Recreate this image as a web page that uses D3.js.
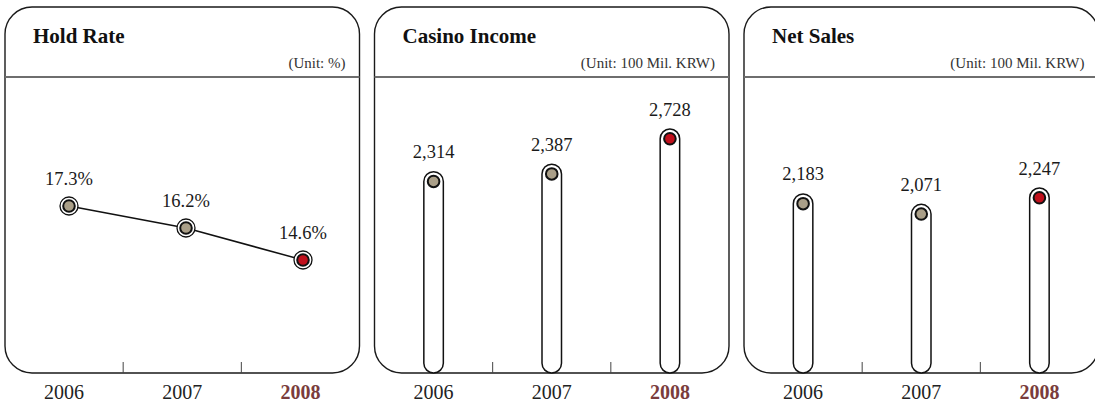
<!DOCTYPE html>
<html><head><meta charset="utf-8">
<script src="https://cdn.jsdelivr.net/npm/d3@7"></script>
<style>
html,body{margin:0;padding:0;background:#fff;}
svg{display:block;font-family:"Liberation Serif","DejaVu Serif",serif;}
</style></head>
<body><svg id="c" width="1095" height="405"></svg>
<script>
const years = ["2006", "2007", "2008"];
const holdRate = [17.3, 16.2, 14.6];
const casinoIncome = [2314, 2387, 2728];
const netSales = [2183, 2071, 2247];
const titles = ["Hold Rate", "Casino Income", "Net Sales"];
const units = ["(Unit: %)", "(Unit: 100 Mil. KRW)", "(Unit: 100 Mil. KRW)"];

(function () {
const svg = d3.select("#c");
const panelW = 354.5, gap = 15, panelTop = 7, panelBottom = 373, sepY = 77, cornerR = 27;
const lefts = [5, 5 + panelW + gap, 5 + 2 * (panelW + gap)];
const tan = "#aa9f88", red = "#c0101c";

function panel(i) {
  const x0 = lefts[i], x1 = x0 + panelW;
  const g = svg.append("g");
  g.append("rect").attr("x", x0).attr("y", panelTop).attr("width", panelW).attr("height", panelBottom - panelTop)
    .attr("rx", cornerR).attr("ry", cornerR).attr("fill", "#fff").attr("stroke", "#1a1a1a").attr("stroke-width", 1.4);
  g.append("line").attr("x1", x0).attr("x2", x1).attr("y1", sepY).attr("y2", sepY)
    .attr("stroke", "#6e6e6e").attr("stroke-width", 1.8);
  g.append("text").attr("x", x0 + 28).attr("y", 43).attr("font-size", 21).attr("font-weight", "bold")
    .attr("fill", "#111").text(titles[i]);
  g.append("text").attr("x", x1 - 14).attr("y", 68).attr("font-size", 15).attr("text-anchor", "end")
    .attr("fill", "#333").text(units[i]);
  const xb = d3.scaleBand().domain(years).range([x0, x1]);
  g.selectAll(".tk").data(years.slice(1)).join("line")
    .attr("x1", d => xb(d)).attr("x2", d => xb(d)).attr("y1", 362).attr("y2", panelBottom)
    .attr("stroke", "#444").attr("stroke-width", 1);
  g.selectAll(".yr").data(years).join("text")
    .attr("x", d => xb(d) + xb.bandwidth() / 2).attr("y", 399).attr("text-anchor", "middle")
    .attr("font-size", 20)
    .attr("font-weight", (d, j) => j === years.length - 1 ? "bold" : "normal")
    .attr("fill", (d, j) => j === years.length - 1 ? "#7a3c3c" : "#222")
    .text(d => d);
  return { g, x0, x1, xb };
}

// Panel 1: line
{
  const { g, x0 } = panel(0);
  const xp = d3.scalePoint().domain(years).range([x0 + 64, x0 + 298]);
  const y = d3.scaleLinear().domain([12, 20]).range([312, 152]);
  const pts = years.map((d, j) => ({ year: d, v: holdRate[j], last: j === years.length - 1 }));
  g.append("path").datum(pts)
    .attr("d", d3.line().x(d => xp(d.year)).y(d => y(d.v)))
    .attr("fill", "none").attr("stroke", "#111").attr("stroke-width", 1.5);
  g.selectAll(".o").data(pts).join("circle")
    .attr("cx", d => xp(d.year)).attr("cy", d => y(d.v)).attr("r", 9)
    .attr("fill", "#fff").attr("stroke", "#111").attr("stroke-width", 1.3);
  g.selectAll(".i").data(pts).join("circle")
    .attr("cx", d => xp(d.year)).attr("cy", d => y(d.v)).attr("r", 5.8)
    .attr("fill", d => d.last ? red : tan).attr("stroke", "#111").attr("stroke-width", 2);
  g.selectAll(".l").data(pts).join("text")
    .attr("x", d => xp(d.year)).attr("y", d => y(d.v) - 21).attr("text-anchor", "middle")
    .attr("font-size", 18.5).attr("fill", "#1a1a1a").text(d => d.v.toFixed(1) + "%");
}

function capsules(i, vals, domain, topY) {
  const { g, xb } = panel(i);
  const y = d3.scaleLinear().domain(domain).range([panelBottom, topY]);
  const bw = 19.5;
  const pts = years.map((d, j) => ({ year: d, v: vals[j], last: j === years.length - 1 }));
  const cx = d => xb(d.year) + xb.bandwidth() / 2;
  g.selectAll(".b").data(pts).join("rect")
    .attr("x", d => cx(d) - bw / 2).attr("y", d => y(d.v)).attr("width", bw)
    .attr("height", d => panelBottom - y(d.v)).attr("rx", bw / 2).attr("ry", bw / 2)
    .attr("fill", "#fff").attr("stroke", "#111").attr("stroke-width", 1.5);
  g.selectAll(".d").data(pts).join("circle")
    .attr("cx", cx).attr("cy", d => y(d.v) + bw / 2).attr("r", 5.8)
    .attr("fill", d => d.last ? red : tan).attr("stroke", "#111").attr("stroke-width", 2);
  g.selectAll(".l").data(pts).join("text")
    .attr("x", cx).attr("y", d => y(d.v) - 13.5).attr("text-anchor", "middle")
    .attr("font-size", 18.5).attr("fill", "#1a1a1a").text(d => d3.format(",")(d.v));
}

capsules(1, casinoIncome, [363, 2728], 129);
capsules(2, netSales, [250, 2247], 188);
})();
</script></body></html>
